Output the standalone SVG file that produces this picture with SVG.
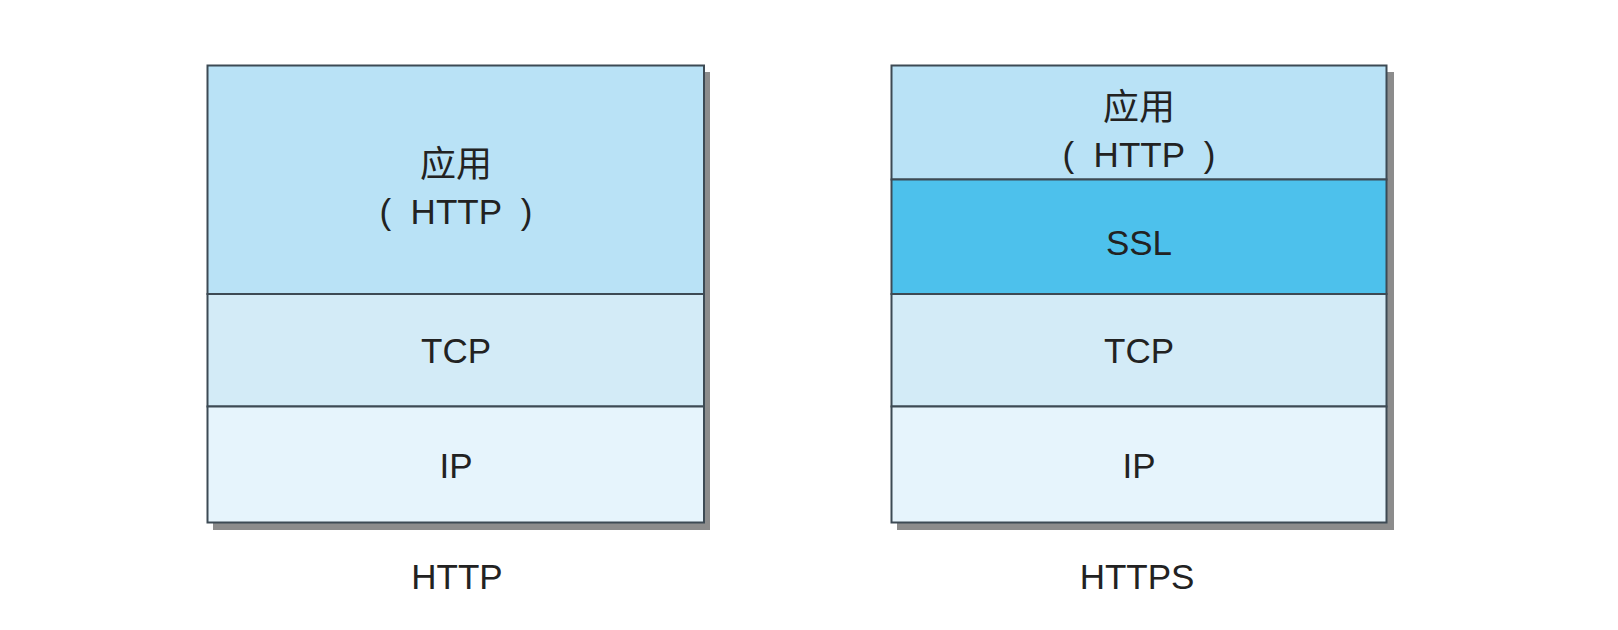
<svg xmlns="http://www.w3.org/2000/svg" width="1618" height="630" viewBox="0 0 1618 630">
<style>
.sh{fill:#8c8c8c}
.ly{stroke:#3d4a54;stroke-width:2}
.app{fill:#b9e2f6}
.ssl{fill:#4dc1ec}
.tcp{fill:#d3ebf7}
.ip{fill:#e6f4fc}
.t{font-family:"Liberation Sans",Arial,sans-serif;font-size:35px;fill:#222;text-anchor:middle;white-space:pre}
.c{font-family:"Noto Sans CJK SC","Liberation Sans",sans-serif;font-size:36px;fill:#222;text-anchor:middle}
</style>
<rect width="1618" height="630" fill="#fff"/>
<g id="http-stack">
<rect class="sh" x="213" y="72" width="497" height="458"/>
<g id="http-app"><rect class="app ly" x="207.5" y="65.5" width="496.5" height="228.5"/>
<text class="c" x="456" y="177">应用</text>
<text class="t" x="456" y="224" xml:space="preserve">(  HTTP  )</text></g>
<g id="http-tcp"><rect class="tcp ly" x="207.5" y="294" width="496.5" height="112.5"/>
<text class="t" x="456" y="363">TCP</text></g>
<g id="http-ip"><rect class="ip ly" x="207.5" y="406.5" width="496.5" height="116"/>
<text class="t" x="456" y="478">IP</text></g>
</g>
<g id="https-stack">
<rect class="sh" x="897" y="72" width="497" height="458"/>
<g id="https-app"><rect class="app ly" x="891.5" y="65.5" width="495" height="114"/>
<text class="c" x="1139" y="120">应用</text>
<text class="t" x="1139" y="167" xml:space="preserve">(  HTTP  )</text></g>
<g id="https-ssl"><rect class="ssl ly" x="891.5" y="179.5" width="495" height="114.5"/>
<text class="t" x="1139" y="255">SSL</text></g>
<g id="https-tcp"><rect class="tcp ly" x="891.5" y="294" width="495" height="112.5"/>
<text class="t" x="1139" y="363">TCP</text></g>
<g id="https-ip"><rect class="ip ly" x="891.5" y="406.5" width="495" height="116"/>
<text class="t" x="1139" y="478">IP</text></g>
</g>
<g id="labels">
<text class="t" x="457" y="589">HTTP</text>
<text class="t" x="1137" y="589">HTTPS</text>
</g>
<g id="connectors"/>
</svg>
